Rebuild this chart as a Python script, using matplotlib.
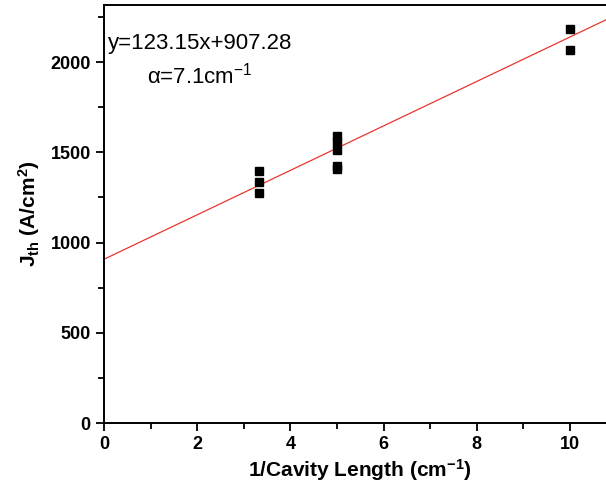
import numpy as np
import matplotlib.pyplot as plt
from matplotlib.ticker import MultipleLocator

plt.rcParams['font.family'] = ['Liberation Sans', 'DejaVu Sans']
plt.rcParams['mathtext.fontset'] = 'custom'
plt.rcParams['mathtext.rm'] = 'Liberation Sans'
plt.rcParams['mathtext.bf'] = 'Liberation Sans:bold'
plt.rcParams['mathtext.it'] = 'Liberation Sans:italic'

# measured thresholds vs inverse cavity length
inv_length = [3.33, 3.33, 3.33, 5, 5, 5, 5, 5, 10, 10]
j_th = [1399, 1335, 1274, 1590, 1555, 1512, 1422, 1410, 2183, 2066]

# linear fit shown on the chart
slope = 123.15
intercept = 907.28
fit_x = [0, 11]

fig = plt.figure(figsize=(6.06, 4.88), dpi=100)
ax = fig.add_axes([104/606, 65/488, 11*46.6/606, 418/488])

ax.plot(fit_x, [slope*v + intercept for v in fit_x], color='#e8362f', lw=0.9, zorder=2)
ax.plot(inv_length, j_th, ls='', marker='s', ms=6, color='black', zorder=3)

ax.set_xlim(0, 11)
ax.set_ylim(0, 2316)
ax.xaxis.set_major_locator(MultipleLocator(2))
ax.xaxis.set_minor_locator(MultipleLocator(1))
ax.yaxis.set_major_locator(MultipleLocator(500))
ax.yaxis.set_minor_locator(MultipleLocator(250))
ax.tick_params(which='both', direction='out', width=1.3, labelsize=13)
ax.tick_params(which='major', length=6)
ax.tick_params(which='minor', length=4)
for lab in ax.get_xticklabels() + ax.get_yticklabels():
    lab.set_fontweight('bold')
for s in ax.spines.values():
    s.set_linewidth(1.4)
ax.spines['right'].set_visible(False)

ax.set_xlabel('1/Cavity Length (cm$^{\\mathbf{-1}}$)', fontsize=15, fontweight='bold', labelpad=3)
ax.set_ylabel(r'J$_{\mathbf{th}}$ (A/cm$^{\mathbf{2}}$)', fontsize=15, fontweight='bold', labelpad=6)

ax.text(0.08, 2103, 'y=123.15x+907.28', fontsize=16, va='center', ha='left')
ax.text(2.05, 1923, 'α=7.1cm$^{\\mathrm{-1}}$', fontsize=16, va='center', ha='center')

fig.savefig('out.png', dpi=100)
